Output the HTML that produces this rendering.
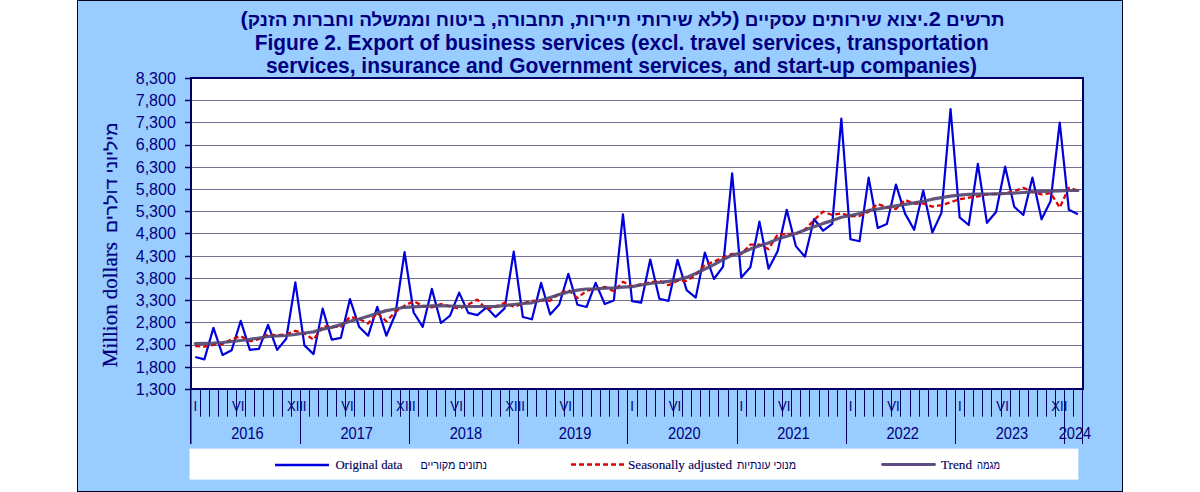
<!DOCTYPE html><html><head><meta charset="utf-8"><style>html,body{margin:0;padding:0;background:#fff;width:1200px;height:492px;overflow:hidden}svg{display:block}text{font-family:"Liberation Sans",sans-serif}</style></head><body>
<svg width="1200" height="492" viewBox="0 0 1200 492">
<rect x="77.5" y="0.5" width="1045" height="491" fill="#99CCFF" stroke="#000018" stroke-width="1"/>
<g fill="#000080" font-weight="bold" font-size="20.8">
<text x="622.6" y="25.6" font-size="18" text-anchor="middle" direction="rtl" textLength="764" lengthAdjust="spacingAndGlyphs">תרשים <tspan font-size="20.8">2.</tspan>יצוא שירותים עסקיים <tspan font-size="20.8">(</tspan>ללא שירותי תיירות<tspan font-size="20.8">,</tspan> תחבורה<tspan font-size="20.8">,</tspan> ביטוח וממשלה וחברות הזנק<tspan font-size="20.8">)</tspan></text>
<text x="621.7" y="49.8" font-size="21.3" text-anchor="middle" textLength="734" lengthAdjust="spacingAndGlyphs">Figure 2. Export of business services (excl. travel services, transportation</text>
<text x="621.4" y="72.5" font-size="21.3" text-anchor="middle" textLength="711" lengthAdjust="spacingAndGlyphs">services, insurance and Government services, and start-up companies)</text>
</g>
<rect x="190.8" y="78" width="891.7" height="311" fill="#fff"/>
<path d="M190.8 367.5H1082.5 M190.8 345.5H1082.5 M190.8 322.5H1082.5 M190.8 300.5H1082.5 M190.8 278.5H1082.5 M190.8 256.5H1082.5 M190.8 233.5H1082.5 M190.8 211.5H1082.5 M190.8 189.5H1082.5 M190.8 167.5H1082.5 M190.8 145.5H1082.5 M190.8 122.5H1082.5 M190.8 100.5H1082.5" stroke="#737096" stroke-width="1" fill="none"/>
<polyline points="195.25,357.0 204.35,359.4 213.45,327.9 222.55,355.0 231.65,350.3 240.75,320.8 249.85,349.9 258.95,348.9 268.05,324.9 277.15,349.9 286.25,338.7 295.35,282.4 304.45,345.4 313.55,354.1 322.65,308.6 331.75,339.6 340.85,337.8 349.95,299.0 359.05,326.7 368.15,335.8 377.25,306.8 386.35,335.7 395.45,314.0 404.55,252.2 413.65,312.5 422.75,326.8 431.85,288.9 440.95,323.0 450.05,315.7 459.15,292.6 468.25,312.9 477.35,315.1 486.45,307.3 495.55,316.9 504.65,308.4 513.75,251.7 522.85,317.0 531.95,319.3 541.05,282.9 550.15,314.5 559.25,304.5 568.35,273.8 577.45,304.8 586.55,307.0 595.65,282.9 604.75,304.0 613.85,300.5 622.95,214.4 632.05,301.2 641.15,302.7 650.25,259.6 659.35,298.7 668.45,300.9 677.55,259.8 686.65,290.1 695.75,297.6 704.85,252.6 713.95,279.0 723.05,266.7 732.15,173.3 741.25,277.5 750.35,267.3 759.45,221.6 768.55,268.7 777.65,251.2 786.75,209.8 795.85,246.1 804.95,256.7 814.05,219.0 823.15,230.7 832.25,223.8 841.35,118.5 850.45,239.2 859.55,241.2 868.65,177.6 877.75,228.0 886.85,224.0 895.95,184.6 905.05,213.6 914.15,229.8 923.25,190.5 932.35,232.5 941.45,212.9 950.55,109.0 959.65,217.4 968.75,225.0 977.85,163.8 986.95,222.8 996.05,212.0 1005.15,166.7 1014.25,206.8 1023.35,215.0 1032.45,177.6 1041.55,219.3 1050.65,200.9 1059.75,122.5 1068.85,209.8 1077.95,214.2" fill="none" stroke="#0000DD" stroke-width="2.2" stroke-linejoin="round"/>
<polyline points="195.25,346.2 204.35,346.7 213.45,344.9 222.55,344.0 231.65,339.4 240.75,336.1 249.85,341.2 258.95,339.2 268.05,334.3 277.15,335.2 286.25,334.5 295.35,330.9 304.45,333.5 313.55,339.7 322.65,326.3 331.75,326.8 340.85,326.8 349.95,316.8 359.05,319.0 368.15,323.5 377.25,312.9 386.35,321.3 395.45,311.8 404.55,305.6 413.65,301.2 422.75,305.9 431.85,307.4 440.95,304.0 450.05,306.3 459.15,308.8 468.25,304.6 477.35,299.6 486.45,309.3 495.55,306.8 504.65,302.9 513.75,306.8 522.85,303.5 531.95,300.8 541.05,300.5 550.15,300.8 559.25,293.5 568.35,290.1 577.45,298.0 586.55,290.7 595.65,289.0 604.75,286.8 613.85,291.3 622.95,281.8 632.05,286.3 641.15,284.1 650.25,282.5 659.35,280.8 668.45,285.2 677.55,280.8 686.65,280.8 695.75,275.2 704.85,264.6 713.95,261.8 723.05,257.3 732.15,253.9 741.25,254.1 750.35,244.6 759.45,244.6 768.55,249.1 777.65,234.6 786.75,234.0 795.85,234.0 804.95,229.6 814.05,220.0 823.15,211.7 832.25,215.0 841.35,213.4 850.45,216.3 859.55,216.0 868.65,211.8 877.75,204.0 886.85,207.4 895.95,209.0 905.05,199.9 914.15,203.5 923.25,203.5 932.35,206.6 941.45,205.1 950.55,202.3 959.65,199.1 968.75,197.7 977.85,196.4 986.95,194.4 996.05,194.0 1005.15,193.5 1014.25,191.1 1023.35,187.8 1032.45,191.8 1041.55,194.4 1050.65,193.1 1059.75,207.6 1068.85,187.8 1077.95,190.5" fill="none" stroke="#DD0000" stroke-width="2.3" stroke-dasharray="5 3" stroke-linejoin="round"/>
<polyline points="195.25,343.5 204.35,343.3 213.45,343.2 222.55,342.5 231.65,341.5 240.75,340.5 249.85,339.4 258.95,338.0 268.05,336.5 277.15,336.0 286.25,335.5 295.35,334.5 304.45,333.0 313.55,331.9 322.65,329.1 331.75,327.4 340.85,324.6 349.95,321.3 359.05,319.0 368.15,316.2 377.25,313.4 386.35,310.6 395.45,309.0 404.55,307.3 413.65,306.8 422.75,306.4 431.85,305.8 440.95,305.6 450.05,306.0 459.15,306.3 468.25,306.5 477.35,306.5 486.45,306.5 495.55,306.3 504.65,305.6 513.75,304.5 522.85,303.5 531.95,302.8 541.05,300.2 550.15,297.6 559.25,294.6 568.35,292.0 577.45,290.1 586.55,289.0 595.65,289.0 604.75,288.2 613.85,287.9 622.95,287.1 632.05,286.6 641.15,285.0 650.25,283.5 659.35,282.4 668.45,281.3 677.55,279.9 686.65,277.4 695.75,273.5 704.85,269.0 713.95,264.6 723.05,259.5 732.15,255.1 741.25,253.0 750.35,249.1 759.45,245.8 768.55,243.0 777.65,239.0 786.75,236.3 795.85,233.5 804.95,230.1 814.05,226.8 823.15,223.4 832.25,220.6 841.35,217.3 850.45,215.5 859.55,213.5 868.65,210.4 877.75,209.0 886.85,207.4 895.95,205.9 905.05,204.4 914.15,202.9 923.25,201.2 932.35,199.2 941.45,197.7 950.55,196.2 959.65,195.1 968.75,194.4 977.85,194.2 986.95,194.0 996.05,193.8 1005.15,193.5 1014.25,193.1 1023.35,192.5 1032.45,191.8 1041.55,191.4 1050.65,191.1 1059.75,190.9 1068.85,190.5 1077.95,190.5" fill="none" stroke="#544672" stroke-opacity="0.92" stroke-width="3.2" stroke-linejoin="round" stroke-linecap="round"/>
<rect x="191" y="78" width="892" height="311" fill="none" stroke="#000064" stroke-width="2"/>
<path d="M185 389.5H190.8 M185 367.5H190.8 M185 345.5H190.8 M185 322.5H190.8 M185 300.5H190.8 M185 278.5H190.8 M185 256.5H190.8 M185 233.5H190.8 M185 211.5H190.8 M185 189.5H190.8 M185 167.5H190.8 M185 145.5H190.8 M185 122.5H190.8 M185 100.5H190.8 M185 78.5H190.8" stroke="#000064" stroke-width="1.5" fill="none"/>
<g fill="#000080" font-size="16"><text x="175.8" y="394.8" text-anchor="end">1,300</text><text x="175.8" y="372.6" text-anchor="end">1,800</text><text x="175.8" y="350.4" text-anchor="end">2,300</text><text x="175.8" y="328.2" text-anchor="end">2,800</text><text x="175.8" y="305.9" text-anchor="end">3,300</text><text x="175.8" y="283.7" text-anchor="end">3,800</text><text x="175.8" y="261.5" text-anchor="end">4,300</text><text x="175.8" y="239.3" text-anchor="end">4,800</text><text x="175.8" y="217.1" text-anchor="end">5,300</text><text x="175.8" y="194.9" text-anchor="end">5,800</text><text x="175.8" y="172.7" text-anchor="end">6,300</text><text x="175.8" y="150.4" text-anchor="end">6,800</text><text x="175.8" y="128.2" text-anchor="end">7,300</text><text x="175.8" y="106.0" text-anchor="end">7,800</text><text x="175.8" y="83.8" text-anchor="end">8,300</text></g>
<path d="M190.75 389V444" stroke="#000064" stroke-width="1.5"/>
<path d="M200.5 389V416.7 M209.5 389V416.7 M218.5 389V416.7 M227.5 389V416.7 M236.5 389V416.7 M245.5 389V416.7 M254.5 389V416.7 M263.5 389V416.7 M273.5 389V416.7 M282.5 389V416.7 M291.5 389V416.7 M300.5 389V444 M309.5 389V416.7 M318.5 389V416.7 M327.5 389V416.7 M336.5 389V416.7 M345.5 389V416.7 M354.5 389V416.7 M364.5 389V416.7 M373.5 389V416.7 M382.5 389V416.7 M391.5 389V416.7 M400.5 389V416.7 M409.5 389V444 M418.5 389V416.7 M427.5 389V416.7 M436.5 389V416.7 M445.5 389V416.7 M455.5 389V416.7 M464.5 389V416.7 M473.5 389V416.7 M482.5 389V416.7 M491.5 389V416.7 M500.5 389V416.7 M509.5 389V416.7 M518.5 389V444 M527.5 389V416.7 M536.5 389V416.7 M546.5 389V416.7 M555.5 389V416.7 M564.5 389V416.7 M573.5 389V416.7 M582.5 389V416.7 M591.5 389V416.7 M600.5 389V416.7 M609.5 389V416.7 M618.5 389V416.7 M627.5 389V444 M637.5 389V416.7 M646.5 389V416.7 M655.5 389V416.7 M664.5 389V416.7 M673.5 389V416.7 M682.5 389V416.7 M691.5 389V416.7 M700.5 389V416.7 M709.5 389V416.7 M718.5 389V416.7 M728.5 389V416.7 M737.5 389V444 M746.5 389V416.7 M755.5 389V416.7 M764.5 389V416.7 M773.5 389V416.7 M782.5 389V416.7 M791.5 389V416.7 M800.5 389V416.7 M809.5 389V416.7 M819.5 389V416.7 M828.5 389V416.7 M837.5 389V416.7 M846.5 389V444 M855.5 389V416.7 M864.5 389V416.7 M873.5 389V416.7 M882.5 389V416.7 M891.5 389V416.7 M900.5 389V416.7 M910.5 389V416.7 M919.5 389V416.7 M928.5 389V416.7 M937.5 389V416.7 M946.5 389V416.7 M955.5 389V444 M964.5 389V416.7 M973.5 389V416.7 M982.5 389V416.7 M991.5 389V416.7 M1001.5 389V416.7 M1010.5 389V416.7 M1019.5 389V416.7 M1028.5 389V416.7 M1037.5 389V416.7 M1046.5 389V416.7 M1055.5 389V416.7 M1064.5 389V444 M1073.5 389V416.7 M1082.5 389V444" stroke="#000064" stroke-width="1" fill="none"/>
<g fill="#000080" font-size="13.2" transform="translate(0,410.5) scale(1,1.12)"><text x="195.4" y="0" text-anchor="middle">I</text><text x="238.2" y="0" text-anchor="middle">VI</text><text x="295.0" y="0" text-anchor="middle">XII</text><text x="304.6" y="0" text-anchor="middle">I</text><text x="347.4" y="0" text-anchor="middle">VI</text><text x="404.2" y="0" text-anchor="middle">XII</text><text x="413.8" y="0" text-anchor="middle">I</text><text x="456.6" y="0" text-anchor="middle">VI</text><text x="513.4" y="0" text-anchor="middle">XII</text><text x="523.0" y="0" text-anchor="middle">I</text><text x="565.8" y="0" text-anchor="middle">VI</text><text x="632.2" y="0" text-anchor="middle">I</text><text x="675.0" y="0" text-anchor="middle">VI</text><text x="741.4" y="0" text-anchor="middle">I</text><text x="784.2" y="0" text-anchor="middle">VI</text><text x="850.6" y="0" text-anchor="middle">I</text><text x="893.4" y="0" text-anchor="middle">VI</text><text x="959.8" y="0" text-anchor="middle">I</text><text x="1002.6" y="0" text-anchor="middle">VI</text><text x="1059.4" y="0" text-anchor="middle">XII</text></g>
<g fill="#000080" font-size="14.6" transform="translate(0,438.7) scale(1,1.07)"><text x="247.5" y="0" text-anchor="middle">2016</text><text x="356.7" y="0" text-anchor="middle">2017</text><text x="465.9" y="0" text-anchor="middle">2018</text><text x="575.1" y="0" text-anchor="middle">2019</text><text x="684.3" y="0" text-anchor="middle">2020</text><text x="793.5" y="0" text-anchor="middle">2021</text><text x="902.7" y="0" text-anchor="middle">2022</text><text x="1011.9" y="0" text-anchor="middle">2023</text><text x="1075" y="0" text-anchor="middle">2024</text></g>
<g transform="translate(116.8,367.2) rotate(-90)" fill="#000080">
<text x="0" y="0" font-family="Liberation Serif" font-size="20.8" stroke="#000080" stroke-width="0.25" style="font-family:'Liberation Serif',serif" textLength="125" lengthAdjust="spacingAndGlyphs">Million dollars</text>
<text x="134.3" y="0" font-size="17" stroke="#000080" stroke-width="0.2" direction="ltr" textLength="110.5" lengthAdjust="spacingAndGlyphs">מיליוני דולרים</text>
</g>
<rect x="189.6" y="448.6" width="888.7" height="31" fill="#fff"/>
<path d="M275 465H329" stroke="#0000DD" stroke-width="2.3"/>
<path d="M571 464.5H625" stroke="#DD0000" stroke-width="2.3" stroke-dasharray="5 3"/>
<path d="M882.5 464.5H934.5" stroke="#5F4C82" stroke-width="2.8" stroke-linecap="round"/>
<g fill="#000060" stroke="#000050" stroke-width="0.15" font-size="13.3" style="font-family:'Liberation Serif',serif">
<text x="335.4" y="468.7" textLength="67.1" lengthAdjust="spacingAndGlyphs" style="font-family:'Liberation Serif',serif">Original data</text>
<text x="628" y="468.7" textLength="104" lengthAdjust="spacingAndGlyphs" style="font-family:'Liberation Serif',serif">Seasonally adjusted</text>
<text x="941" y="468.7" textLength="31" lengthAdjust="spacingAndGlyphs" style="font-family:'Liberation Serif',serif">Trend</text>
</g>
<g fill="#000060" font-size="12">
<text x="420.5" y="468.9" textLength="66.4" lengthAdjust="spacingAndGlyphs">נתונים מקוריים</text>
<text x="737" y="468.9" textLength="59" lengthAdjust="spacingAndGlyphs">מנוכי עונתיות</text>
<text x="977" y="468.9" textLength="23" lengthAdjust="spacingAndGlyphs">מגמה</text>
</g>
</svg></body></html>
